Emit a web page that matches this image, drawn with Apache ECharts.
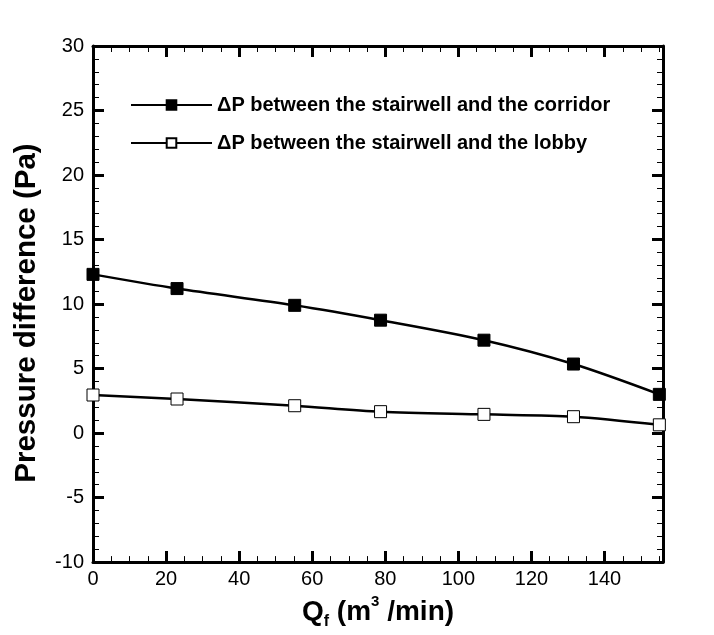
<!DOCTYPE html>
<html>
<head>
<meta charset="utf-8">
<script src="https://cdn.jsdelivr.net/npm/echarts@6/dist/echarts.min.js"></script>
<style>html,body{margin:0;padding:0;background:#fff;}#c{width:714px;height:635px;}</style>
</head>
<body>
<div id="c"></div>
<script>
var flowRates = [0, 23, 55.2, 78.7, 107, 131.5, 155];
var corridorDP = [12.3, 11.2, 9.9, 8.75, 7.2, 5.35, 3.0];
var lobbyDP = [2.95, 2.64, 2.12, 1.66, 1.45, 1.27, 0.64];
var corridorName = '\u0394P between the stairwell and the corridor';
var lobbyName = '\u0394P between the stairwell and the lobby';
var xTicks = {min: 0, max: 156, interval: 20};
var yTicks = {min: -10, max: 30, interval: 5};

function pairs(xs, ys) { return xs.map(function (x, i) { return [x, ys[i]]; }); }

var FONT = '"Liberation Sans", Arial, sans-serif';
var axisCommon = {
  axisLine: {onZero: false, lineStyle: {color: '#000', width: 3}},
  axisTick: {inside: true, length: 11, lineStyle: {color: '#000', width: 3}},
  minorTick: {show: true, splitNumber: 4, length: 6, lineStyle: {color: '#000', width: 1}},
  splitLine: {show: false}
};
function mk(extra) { return Object.assign({}, JSON.parse(JSON.stringify(axisCommon)), extra); }

var chart = echarts.init(document.getElementById('c'), null, {renderer: 'canvas'});
chart.setOption({
  animation: false,
  backgroundColor: '#fff',
  grid: {left: 93, top: 46, right: 51, bottom: 72, containLabel: false},
  legend: {
    orient: 'vertical', left: 125, top: 90,
    itemWidth: 81, itemHeight: 12, itemGap: 18,
    textStyle: {fontFamily: FONT, fontWeight: 'bold', fontSize: 20, color: '#000'},
    data: [corridorName, lobbyName]
  },
  xAxis: [
    mk({type: 'value', position: 'bottom', min: xTicks.min, max: xTicks.max, interval: xTicks.interval,
      axisLabel: {color: '#000', fontFamily: FONT, fontSize: 20, margin: 7, showMaxLabel: false},
      name: '{q|Q}{sub|f}{t| (m}{sup|3}{t| /min)}', nameLocation: 'middle', nameGap: 12,
      nameTextStyle: {rich: {
        q: {fontFamily: FONT, fontWeight: 'bold', fontSize: 28, color: '#000', lineHeight: 36},
        t: {fontFamily: FONT, fontWeight: 'bold', fontSize: 28, color: '#000', lineHeight: 36},
        sub: {fontFamily: FONT, fontWeight: 'bold', fontSize: 16, color: '#000', verticalAlign: 'bottom', lineHeight: 36, padding: [15, 0, 0, 0]},
        sup: {fontFamily: FONT, fontWeight: 'bold', fontSize: 15, color: '#000', verticalAlign: 'top', lineHeight: 36, padding: [0, 0, 14, 0]}
      }}
    }),
    mk({type: 'value', position: 'top', min: xTicks.min, max: xTicks.max, interval: xTicks.interval,
      axisLabel: {show: false}})
  ],
  yAxis: [
    mk({type: 'value', position: 'left', min: yTicks.min, max: yTicks.max, interval: yTicks.interval,
      minorTick: {show: true, splitNumber: 5, length: 6, lineStyle: {color: '#000', width: 1}},
      axisLabel: {color: '#000', fontFamily: FONT, fontSize: 20, margin: 9}}),
    mk({type: 'value', position: 'right', min: yTicks.min, max: yTicks.max, interval: yTicks.interval,
      minorTick: {show: true, splitNumber: 5, length: 6, lineStyle: {color: '#000', width: 1}},
      axisLabel: {show: false}})
  ],
  graphic: [{
    type: 'text', x: 27, y: 313, rotation: Math.PI / 2,
    style: {text: 'Pressure difference (Pa)', font: 'bold 29.5px ' + FONT, fill: '#000',
      textAlign: 'center', textVerticalAlign: 'middle'}
  }],
  series: [
    {
      name: corridorName, type: 'line', smooth: 0.3,
      data: pairs(flowRates, corridorDP),
      symbol: 'rect', symbolSize: 12,
      lineStyle: {color: '#000', width: 2.5},
      itemStyle: {color: '#000', borderColor: '#000', borderWidth: 1}
    },
    {
      name: lobbyName, type: 'line', smooth: 0.3,
      data: pairs(flowRates, lobbyDP),
      symbol: 'rect', symbolSize: 12,
      lineStyle: {color: '#000', width: 2.5},
      itemStyle: {color: '#fff', borderColor: '#000', borderWidth: 1}
    }
  ]
});
</script>
</body>
</html>
